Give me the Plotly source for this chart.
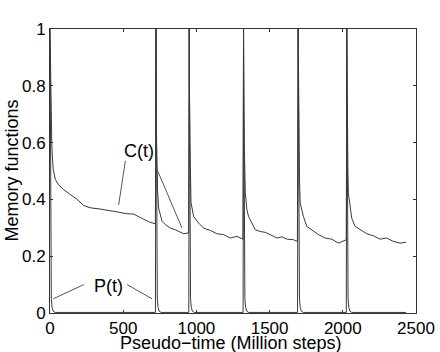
import plotly.graph_objects as go

# C(t): memory function, restarted at each reset
c_time = [0, 3, 6, 9, 12, 15, 22, 37, 60, 94, 140, 185, 231, 280, 344, 400, 458, 520, 572, 610, 640, 680, 720,
          724, 726, 728, 731, 735, 742, 765, 788, 822, 856, 890, 913, 947,
          951, 953, 956, 959, 963, 981, 1015, 1049, 1095, 1140, 1186, 1231, 1277, 1318,
          1322, 1324, 1327, 1330, 1334, 1345, 1356, 1379, 1402, 1436, 1470, 1504, 1550, 1584, 1618, 1663, 1690,
          1695, 1697, 1700, 1704, 1709, 1731, 1754, 1788, 1834, 1879, 1925, 1970, 2004, 2024,
          2027, 2029, 2032, 2035, 2038, 2050, 2061, 2084, 2118, 2164, 2209, 2254, 2300, 2345, 2391, 2432]
c_value = [1.0, 0.86, 0.74, 0.66, 0.6, 0.56, 0.505, 0.47, 0.45, 0.434, 0.417, 0.40, 0.378, 0.37, 0.366, 0.36, 0.356, 0.35, 0.348, 0.338, 0.329, 0.32, 0.314,
           1.0, 0.75, 0.6, 0.5, 0.43, 0.37, 0.323, 0.311, 0.299, 0.293, 0.284, 0.279, 0.282,
           1.0, 0.75, 0.6, 0.48, 0.39, 0.34, 0.317, 0.299, 0.291, 0.279, 0.276, 0.264, 0.27, 0.26,
           1.0, 0.75, 0.6, 0.5, 0.423, 0.364, 0.34, 0.317, 0.293, 0.287, 0.284, 0.276, 0.264, 0.268, 0.26, 0.258, 0.252,
           1.0, 0.75, 0.6, 0.47, 0.387, 0.34, 0.305, 0.293, 0.276, 0.264, 0.26, 0.246, 0.252, 0.258,
           1.0, 0.75, 0.6, 0.5, 0.423, 0.364, 0.334, 0.305, 0.293, 0.279, 0.272, 0.26, 0.264, 0.252, 0.246, 0.249]

# P(t): fast-decaying memory function
p_time = [0, 2, 4, 6, 9, 14, 22, 35, 720,
          724, 726, 728, 730, 733, 738, 746, 759, 948,
          951, 953, 955, 957, 960, 965, 973, 986, 1319,
          1322, 1324, 1326, 1328, 1331, 1336, 1344, 1357, 1691,
          1695, 1697, 1699, 1701, 1704, 1709, 1717, 1730, 2024,
          2027, 2029, 2031, 2033, 2036, 2041, 2049, 2062, 2432]
p_value = [1.0, 0.6, 0.3, 0.12, 0.05, 0.02, 0.006, 0.002, 0.002,
           1.0, 0.6, 0.3, 0.12, 0.05, 0.02, 0.006, 0.002, 0.002,
           1.0, 0.6, 0.3, 0.12, 0.05, 0.02, 0.006, 0.002, 0.002,
           1.0, 0.6, 0.3, 0.12, 0.05, 0.02, 0.006, 0.002, 0.002,
           1.0, 0.6, 0.3, 0.12, 0.05, 0.02, 0.006, 0.002, 0.002,
           1.0, 0.6, 0.3, 0.12, 0.05, 0.02, 0.006, 0.002, 0.002]

x_ticks = [0, 500, 1000, 1500, 2000, 2500]
y_ticks = [0, 0.2, 0.4, 0.6, 0.8, 1]
x_title = "Pseudo\u2212time (Million steps)"
y_title = "Memory functions"

# curve labels: (text, x, y) and their leader lines (x0, y0, x1, y1)
labels = [("C(t)", 607, 0.571), ("P(t)", 402, 0.094)]
leaders = [(515, 0.536, 469, 0.381), (720, 0.519, 902, 0.299),
           (231, 0.10, 22, 0.05), (527, 0.10, 697, 0.05)]

font = "Liberation Sans, Arial, Helvetica, sans-serif"
ink = "#3a3a3a"

fig = go.Figure()
fig.add_trace(go.Scatter(x=c_time, y=c_value, mode="lines", line=dict(color=ink, width=1), name="C(t)"))
fig.add_trace(go.Scatter(x=p_time, y=p_value, mode="lines", line=dict(color=ink, width=1), name="P(t)"))

for text, x, y in labels:
    fig.add_annotation(x=x, y=y, text=text, showarrow=False, xanchor="center", yanchor="middle",
                       font=dict(family=font, size=18, color="black"))
for x0, y0, x1, y1 in leaders:
    fig.add_shape(type="line", x0=x0, y0=y0, x1=x1, y1=y1, xref="x", yref="y",
                  line=dict(color="#555555", width=1))

# axis titles as paper annotations, tucked tight like the MATLAB original
fig.add_annotation(x=0.4945, y=-0.106, xref="paper", yref="paper", text=x_title, showarrow=False,
                   xanchor="center", yanchor="middle", font=dict(family=font, size=18, color="black"))
fig.add_annotation(x=-0.105, y=0.5, xref="paper", yref="paper", text=y_title, showarrow=False,
                   textangle=-90, xanchor="center", yanchor="middle", font=dict(family=font, size=18, color="black"))

axis = dict(showgrid=False, zeroline=False, showline=True, linecolor="#333333", linewidth=1,
            mirror="allticks", ticks="inside", ticklen=3, tickcolor="#333333",
            tickfont=dict(family=font, size=17, color="black"), automargin=False)

fig.update_layout(
    width=440, height=352,
    margin=dict(l=50, r=24, t=29, b=39),
    paper_bgcolor="white", plot_bgcolor="white",
    showlegend=False,
    xaxis=dict(axis, range=[0, 2500], tickvals=x_ticks),
    yaxis=dict(axis, range=[0, 1], tickvals=y_ticks),
)

# drop the default 8 px body margin so the figure sits at the window corner
fig.write_html("out.html", config={"displayModeBar": False},
               post_script="document.body.style.margin = '0';")
